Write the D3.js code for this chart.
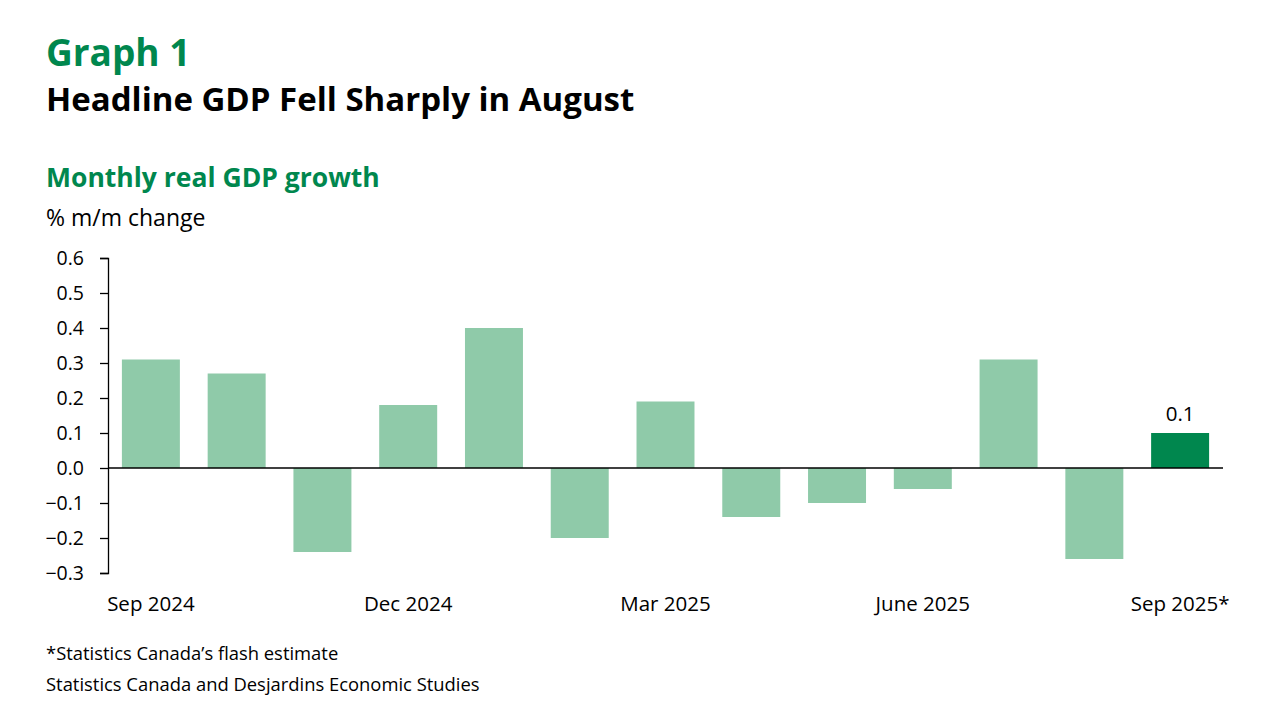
<!DOCTYPE html>
<html><head><meta charset="utf-8">
<script src="https://cdn.jsdelivr.net/npm/d3@7"></script>
<style>
html,body{margin:0;padding:0;background:#fff;}
svg text{font-family:"Open Sans",sans-serif;}
</style></head>
<body>
<svg id="chart" width="1280" height="720"></svg>
<script>
const months = ["Sep 2024","Oct 2024","Nov 2024","Dec 2024","Jan 2025","Feb 2025","Mar 2025","Apr 2025","May 2025","June 2025","Jul 2025","Aug 2025","Sep 2025*"];
const growth = [0.31,0.27,-0.24,0.18,0.40,-0.20,0.19,-0.14,-0.10,-0.06,0.31,-0.26,0.10];
const yTicks = [0.6,0.5,0.4,0.3,0.2,0.1,0.0,-0.1,-0.2,-0.3];
const xLabelMonths = ["Sep 2024","Dec 2024","Mar 2025","June 2025","Sep 2025*"];
const highlight = "Sep 2025*";

const svg = d3.select("#chart");
const green = "#00874E", light = "#8FCAA9";
const FF = "'Open Sans',sans-serif";

function txt(x0,y0,size,weight,fill,s){
  return svg.append("text").attr("x",x0).attr("y",y0).attr("font-size",size)
    .attr("font-weight",weight).attr("fill",fill).attr("font-family",FF).text(s);
}
txt(46,66,37,"bold",green,"Graph 1");
txt(46,111,33,"bold","#000","Headline GDP Fell Sharply in August");
txt(46,187,26.5,"bold",green,"Monthly real GDP growth");
txt(46,226,23,"normal","#000","% m/m change");

const x = d3.scaleBand().domain(months).range([108,1223]).paddingInner(0.324).paddingOuter(0.162);
const y = d3.scaleLinear().domain([-0.3,0.6]).range([573,258]);

const g = svg.append("g");
g.selectAll("rect").data(months).join("rect")
  .attr("x",d=>x(d))
  .attr("width",x.bandwidth())
  .attr("y",(d,i)=>y(Math.max(0,growth[i])))
  .attr("height",(d,i)=>Math.abs(y(growth[i])-y(0)))
  .attr("fill",d=>d===highlight?green:light);

const yAxis = svg.append("g").attr("transform","translate(108,0)")
  .call(d3.axisLeft(y).tickValues(yTicks).tickFormat(d3.format(".1f")).tickSize(8).tickPadding(16));
yAxis.select(".domain").attr("stroke","#000").attr("stroke-width",1.3);
yAxis.selectAll(".tick line").attr("stroke","#000").attr("stroke-width",1.3);
yAxis.selectAll(".tick text").attr("font-size",19.5).attr("fill","#000").attr("font-family",FF);

svg.append("line").attr("x1",108).attr("x2",1223).attr("y1",y(0)).attr("y2",y(0)).attr("stroke","#000").attr("stroke-width",1.3);

svg.append("g").selectAll("text").data(xLabelMonths).join("text")
  .attr("x",d=>x(d)+x.bandwidth()/2).attr("y",611).attr("font-family",FF)
  .attr("text-anchor","middle").attr("font-size",20.5).attr("fill","#000").text(d=>d);

const hi = months.indexOf(highlight);
svg.append("text").attr("x",x(highlight)+x.bandwidth()/2).attr("y",y(growth[hi])-12).attr("font-family",FF)
  .attr("text-anchor","middle").attr("font-size",20.5).attr("fill","#000").text(d3.format(".1f")(growth[hi]));

txt(46,660,18.4,"normal","#000","*Statistics Canada’s flash estimate");
txt(46,691,18.4,"normal","#000","Statistics Canada and Desjardins Economic Studies");
</script>
</body></html>
